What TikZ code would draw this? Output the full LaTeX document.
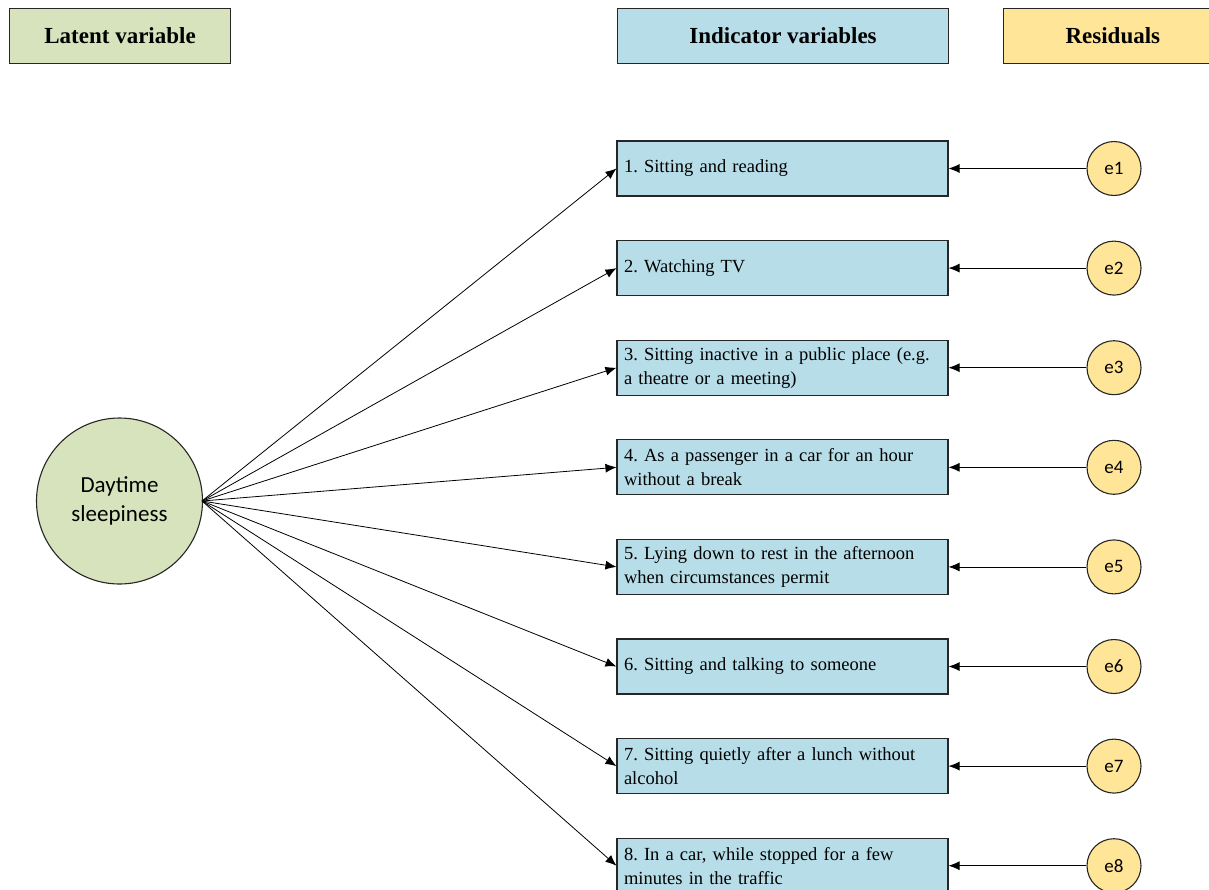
\documentclass[tikz,border=0pt]{standalone}
\usepackage{fontspec}
\setmainfont{Liberation Serif}
\newfontfamily\calib{Carlito}
\usetikzlibrary{arrows.meta}
\definecolor{lgreen}{HTML}{D7E3BD}
\definecolor{lblue}{HTML}{B7DDE8}
\definecolor{lyellow}{HTML}{FFE598}
\definecolor{edge}{HTML}{262626}
\frenchspacing
\tikzset{
  hdr/.style={draw=edge, line width=1.1pt, minimum height=55pt, anchor=north west, inner sep=0pt, font=\fontsize{23}{26}\selectfont\bfseries},
  ind/.style={draw=edge, fill=lblue, line width=1.1pt, minimum width=331pt, minimum height=55pt, text width=317pt, align=left, inner sep=0pt, font=\fontsize{18.5}{24}\selectfont},
  res/.style={circle, draw=edge, fill=lyellow, line width=1.1pt, minimum size=54pt, inner sep=0pt, font=\calib\fontsize{19}{21}\selectfont},
  arr/.style={-{Latex[length=11pt,width=9pt]}, line width=0.8pt, black},
}
\begin{document}
\begin{tikzpicture}[x=1pt,y=-1pt]
\useasboundingbox (0,0) rectangle (1209,889);
\clip (0,0) rectangle (1209,889);
\node[hdr, fill=lgreen, minimum width=221pt] (hl) at (9,8) {Latent variable};
\node[hdr, fill=lblue, minimum width=331pt] (hi) at (617,8) {Indicator variables};
\node[hdr, fill=lyellow, minimum width=212pt, text width=212pt, align=left] (hr) at (1003,8) {\hspace*{62pt}Residuals};
\node[circle, draw=edge, fill=lgreen, line width=1.1pt, minimum size=166pt, inner sep=0pt, align=center, font=\calib\fontsize{23}{29}\selectfont] (lat) at (119.5,501) {Daytime\\sleepiness};
\coordinate (src) at (202,501);
\foreach \i/\t in {
 1/{1. Sitting and reading},
 2/{2. Watching TV},
 3/{3. Sitting inactive in a public place (e.g.\\a theatre or a meeting)},
 4/{4. As a passenger in a car for an hour\\without a break},
 5/{5. Lying down to rest in the afternoon\\when circumstances permit},
 6/{6. Sitting and talking to someone},
 7/{7. Sitting quietly after a lunch without\\alcohol},
 8/{8. In a car, while stopped for a few\\minutes in the traffic}}{
  \node[ind] (b\i) at (782.5,{168.5+99.6*(\i-1)}) {\t};
  \node[res] (e\i) at (1114,{168.5+99.6*(\i-1)}) {e\i};
  \draw[arr] (src) -- (b\i.west);
  \draw[arr] (e\i) -- (b\i.east);
}
\end{tikzpicture}
\end{document}
